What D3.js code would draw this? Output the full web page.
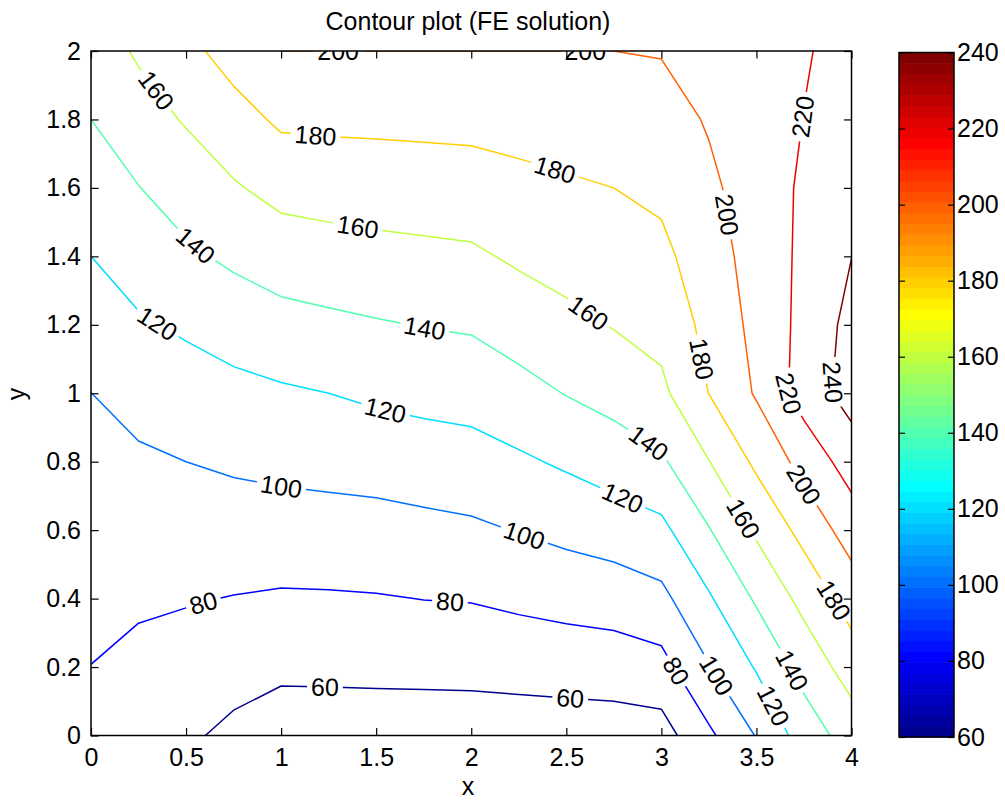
<!DOCTYPE html>
<html>
<head>
<meta charset="utf-8">
<script src="https://cdn.jsdelivr.net/npm/d3@7"></script>
<style>
  body { margin: 0; background: #fff; }
  svg { display: block; }
</style>
</head>
<body>
<div id="chart"></div>
<script>
// ---- data ----
// grid nodes of the FE solution
const xNodes = [0, 0.25, 0.5, 0.75, 1, 1.25, 1.5, 1.75, 2, 2.25, 2.5, 2.75, 3, 3.25, 3.5, 3.75, 4];
const yNodes = [0, 0.2, 0.4, 0.6, 0.8, 1, 1.2, 1.4, 1.6, 1.8, 2];

// temperature at the nodes, one row per y (bottom row first)
const temps = [
  [72, 67, 63, 55.6, 49.8, 50.0, 50.1, 49.8, 49.8, 49.7, 49.9, 50.5, 51.7, 76.3, 101, 129, 149],
  [79.8, 75, 71.7, 67.5, 63.9, 64.1, 64.5, 65.0, 65.4, 66.9, 68.3, 69.5, 73.3, 98.9, 121.7, 147.2, 169],
  [84.9, 82.8, 81.3, 79.4, 77.9, 78.2, 78.9, 80.3, 81.0, 84.0, 86.8, 89.2, 94.9, 117.7, 142.7, 166, 189],
  [89.9, 89.9, 90.7, 91.0, 91.5, 92.3, 93.0, 94.9, 96.8, 100.8, 105.2, 109.4, 115.0, 138.9, 163.2, 186.3, 209],
  [94.9, 97.1, 100, 102.7, 104.8, 106.2, 107.8, 110.2, 112.3, 117.1, 122.7, 129.4, 137.1, 159.5, 183.9, 207, 229],
  [99.9, 106.7, 111.1, 114.6, 117.5, 120, 123.4, 125.7, 127.4, 133.5, 140.7, 147, 155.6, 180.3, 202, 228.5, 248],
  [110, 117.8, 122.8, 128.5, 133.3, 136, 138.5, 140.7, 142.2, 148.9, 155.3, 161, 166.6, 185.6, 205.6, 225.6, 246],
  [120, 128.6, 136.6, 143.6, 149.6, 152, 154.1, 155.6, 157.0, 162.9, 167.1, 170.5, 175.3, 190.9, 208, 224, 239.8],
  [130, 139.5, 149.2, 158.1, 166.1, 168, 169.3, 170.2, 171.2, 174.7, 177.6, 180, 184, 196.3, 209.2, 223, 234],
  [140, 151.9, 161.6, 172.4, 183.3, 184, 184.3, 184.9, 185.5, 187.1, 188.7, 190, 192.5, 201.6, 211, 220.3, 229],
  [150, 162.4, 174.6, 188, 200, 200, 200, 200, 200, 200, 200, 200, 201, 207, 212.8, 218.8, 225]
];

const levels = [60, 80, 100, 120, 140, 160, 180, 200, 220, 240];
const colorRange = [60, 240];

const xTicks = [0, 0.5, 1, 1.5, 2, 2.5, 3, 3.5, 4];
const yTicks = [0, 0.2, 0.4, 0.6, 0.8, 1, 1.2, 1.4, 1.6, 1.8, 2];
const barTicks = [60, 80, 100, 120, 140, 160, 180, 200, 220, 240];

// inline contour labels: [level, x, y]
const labelSpots = [
  [160, 0.29, 1.863], [180, 1.18, 1.746], [200, 1.30, 2.0], [200, 2.60, 2.0],
  [160, 1.40, 1.477], [140, 0.545, 1.428], [120, 0.345, 1.20], [140, 1.755, 1.19],
  [120, 1.545, 0.942], [100, 1.00, 0.723], [80, 0.59, 0.39], [60, 1.23, 0.133],
  [80, 1.887, 0.381], [100, 2.265, 0.5625], [60, 2.52, 0.104], [180, 2.44, 1.652],
  [160, 2.62, 1.237], [140, 2.92, 0.843], [120, 2.78, 0.673], [80, 3.07, 0.186],
  [100, 3.28, 0.172], [120, 3.58, 0.084], [140, 3.67, 0.186], [180, 3.91, 0.396],
  [160, 3.42, 0.63], [200, 3.73, 0.727], [220, 3.67, 1.0], [240, 3.87, 1.034],
  [180, 3.185, 1.097], [200, 3.34, 1.521], [220, 3.745, 1.808]
];

// ---- layout ----
const W = 1005, H = 802;
const plot = { left: 91, right: 851.5, top: 51, bottom: 735.5 };
const bar = { left: 899, right: 954, top: 52.5, bottom: 737 };
const FONT = '"Liberation Sans", Arial, Helvetica, sans-serif';
const FS = 25;

// matlab jet(64)
function jet(i) {
  const u = k => (k < 1 || k > 47) ? 0 : k <= 16 ? k / 16 : k <= 31 ? 1 : (48 - k) / 16;
  return d3.rgb(255 * u(i - 24), 255 * u(i - 8), 255 * u(i + 8)).formatHex();
}
function levelColor(v) {
  let i = Math.floor((v - colorRange[0]) / (colorRange[1] - colorRange[0]) * 64) + 1;
  return jet(Math.max(1, Math.min(64, i)));
}

const x = d3.scaleLinear().domain([0, 4]).range([plot.left, plot.right]);
const y = d3.scaleLinear().domain([0, 2]).range([plot.bottom, plot.top]);
const c = d3.scaleLinear().domain(colorRange).range([bar.bottom, bar.top]);

const svg = d3.select("#chart").append("svg").attr("width", W).attr("height", H);
const defs = svg.append("defs");
defs.append("clipPath").attr("id", "plotclip").append("rect")
  .attr("x", plot.left).attr("y", plot.top)
  .attr("width", plot.right - plot.left).attr("height", plot.bottom - plot.top);
const mask = defs.append("mask").attr("id", "gaps").attr("maskUnits", "userSpaceOnUse")
  .attr("x", 0).attr("y", 0).attr("width", W).attr("height", H);
mask.append("rect").attr("width", W).attr("height", H).attr("fill", "#fff");

// ---- contour lines ----
const nx = xNodes.length, ny = yNodes.length;
const gx = d3.scaleLinear().domain(xNodes.map((d, i) => i + 0.5)).range(xNodes);
const gy = d3.scaleLinear().domain(yNodes.map((d, i) => i + 0.5)).range(yNodes);
const bands = d3.contours().size([nx, ny]).thresholds(levels)(temps.flat());

const eps = 1e-7;
const inside = p => p[0] >= 0.5 - eps && p[0] <= nx - 0.5 + eps && p[1] >= 0.5 - eps && p[1] <= ny - 0.5 + eps;

// keep only the iso-line part of each ring, drop the grid border
function ringToLines(ring) {
  const n = ring.length - 1;
  const keep = [];
  for (let i = 0; i < n; i++) keep.push(inside(ring[i]) && inside(ring[i + 1]));
  const start = keep.indexOf(false);
  if (start < 0) return [ring.slice()];
  const out = [];
  let cur = null;
  for (let k = 1; k <= n; k++) {
    const i = (start + k) % n;
    if (keep[i]) { if (!cur) cur = [ring[i]]; cur.push(ring[i + 1]); }
    else if (cur) { out.push(cur); cur = null; }
  }
  if (cur) out.push(cur);
  return out;
}

const lines = {};
const allLines = [];
bands.forEach(b => {
  lines[b.value] = [];
  b.coordinates.forEach(poly => poly.forEach(ring => {
    ringToLines(ring).forEach(l => {
      const pts = l.map(p => [x(gx(p[0])), y(gy(p[1]))]);
      lines[b.value].push(pts);
      allLines.push({ level: b.value, pts });
    });
  }));
});

svg.append("g").attr("clip-path", "url(#plotclip)")
  .append("g").attr("mask", "url(#gaps)")
  .selectAll("path").data(allLines).join("path")
  .attr("d", d => d3.line()(d.pts))
  .attr("fill", "none")
  .attr("stroke", d => levelColor(d.level))
  .attr("stroke-width", 1.5)
  .attr("stroke-linejoin", "round");

// ---- inline labels ----
function cumLen(pl) {
  const L = [0];
  for (let i = 1; i < pl.length; i++) L.push(L[i - 1] + Math.hypot(pl[i][0] - pl[i - 1][0], pl[i][1] - pl[i - 1][1]));
  return L;
}
function pointAt(pl, L, s) {
  s = Math.max(0, Math.min(L[L.length - 1], s));
  let i = 1;
  while (i < pl.length - 1 && L[i] < s) i++;
  const seg = (L[i] - L[i - 1]) || 1, t = (s - L[i - 1]) / seg;
  return [pl[i - 1][0] + t * (pl[i][0] - pl[i - 1][0]), pl[i - 1][1] + t * (pl[i][1] - pl[i - 1][1])];
}

const labelG = svg.append("g").attr("clip-path", "url(#plotclip)")
  .attr("font-family", FONT).attr("font-size", FS).attr("fill", "#000");

labelSpots.forEach(([lev, lx, ly]) => {
  const px = x(lx), py = y(ly);
  let best = null;
  (lines[lev] || []).forEach(pl => {
    const L = cumLen(pl);
    for (let i = 1; i < pl.length; i++) {
      const ax = pl[i - 1][0], ay = pl[i - 1][1], dx = pl[i][0] - ax, dy = pl[i][1] - ay;
      const len2 = dx * dx + dy * dy;
      let t = len2 ? ((px - ax) * dx + (py - ay) * dy) / len2 : 0;
      t = Math.max(0, Math.min(1, t));
      const d = Math.hypot(px - (ax + t * dx), py - (ay + t * dy));
      if (!best || d < best.d) best = { d, pl, L, s: L[i - 1] + t * Math.sqrt(len2) };
    }
  });
  if (!best) return;
  const txt = labelG.append("text").attr("text-anchor", "middle").attr("dy", "0.355em").text(lev);
  const w = txt.node().getComputedTextLength();
  const p1 = pointAt(best.pl, best.L, best.s - w / 2);
  const p2 = pointAt(best.pl, best.L, best.s + w / 2);
  const ctr = pointAt(best.pl, best.L, best.s);
  let ang = Math.atan2(p2[1] - p1[1], p2[0] - p1[0]) * 180 / Math.PI;
  if (ang > 90) ang -= 180;
  if (ang <= -90) ang += 180;
  const tf = `translate(${ctr[0]},${ctr[1]}) rotate(${ang})`;
  txt.attr("transform", tf);
  mask.append("rect").attr("x", -w / 2 - 4).attr("y", -10).attr("width", w + 8).attr("height", 20)
    .attr("fill", "#000").attr("transform", tf);
});

// ---- axes ----
function styleAxis(g) {
  g.select(".domain").remove();
  g.attr("font-family", FONT).attr("font-size", FS);
  g.selectAll("line").attr("stroke", "#000").attr("stroke-width", 1.2);
  g.selectAll("text").attr("fill", "#000");
}
const fmt = d => String(d);

svg.append("g").attr("transform", `translate(0,${plot.bottom})`)
  .call(d3.axisBottom(x).tickValues(xTicks).tickFormat(fmt).tickSize(-7.6).tickPadding(13)).call(styleAxis);
svg.append("g").attr("transform", `translate(0,${plot.top})`)
  .call(d3.axisTop(x).tickValues(xTicks).tickFormat("").tickSize(-7.6)).call(styleAxis);
svg.append("g").attr("transform", `translate(${plot.left},0)`)
  .call(d3.axisLeft(y).tickValues(yTicks).tickFormat(fmt).tickSize(-7.6).tickPadding(10)).call(styleAxis);
svg.append("g").attr("transform", `translate(${plot.right},0)`)
  .call(d3.axisRight(y).tickValues(yTicks).tickFormat("").tickSize(-7.6)).call(styleAxis);

svg.append("rect")
  .attr("x", plot.left).attr("y", plot.top)
  .attr("width", plot.right - plot.left).attr("height", plot.bottom - plot.top)
  .attr("fill", "none").attr("stroke", "#000").attr("stroke-width", 1.5);

// ---- colorbar ----
const step = (colorRange[1] - colorRange[0]) / 64;
svg.append("g").selectAll("rect").data(d3.range(64)).join("rect")
  .attr("x", bar.left).attr("width", bar.right - bar.left)
  .attr("y", i => c(colorRange[0] + (i + 1) * step))
  .attr("height", i => c(colorRange[0] + i * step) - c(colorRange[0] + (i + 1) * step) + 0.6)
  .attr("fill", i => jet(i + 1));

svg.append("g").attr("transform", `translate(${bar.right},0)`)
  .call(d3.axisRight(c).tickValues(barTicks).tickFormat(fmt).tickSize(-6).tickPadding(3)).call(styleAxis);
svg.append("g").attr("transform", `translate(${bar.left},0)`)
  .call(d3.axisLeft(c).tickValues(barTicks).tickFormat("").tickSize(-6)).call(styleAxis);
svg.append("rect")
  .attr("x", bar.left).attr("y", bar.top)
  .attr("width", bar.right - bar.left).attr("height", bar.bottom - bar.top)
  .attr("fill", "none").attr("stroke", "#000").attr("stroke-width", 1.5);

// ---- titles ----
svg.append("text").attr("x", 468).attr("y", 29.5).attr("text-anchor", "middle")
  .attr("font-family", FONT).attr("font-size", FS).text("Contour plot (FE solution)");
svg.append("text").attr("x", 468).attr("y", 795).attr("text-anchor", "middle")
  .attr("font-family", FONT).attr("font-size", FS).text("x");
svg.append("text").attr("transform", "translate(25,394) rotate(-90)").attr("text-anchor", "middle")
  .attr("font-family", FONT).attr("font-size", FS).text("y");
</script>
</body>
</html>
